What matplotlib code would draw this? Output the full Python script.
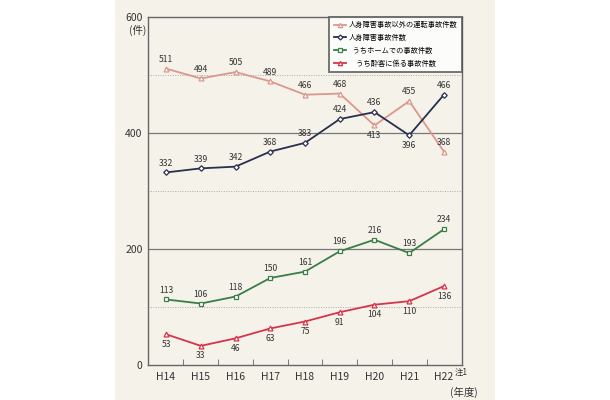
import matplotlib
matplotlib.use("Agg")
import matplotlib.pyplot as plt
from matplotlib.patches import Rectangle

plt.rcParams['font.family'] = ['Noto Sans CJK JP', 'DejaVu Sans']

years = ["H14", "H15", "H16", "H17", "H18", "H19", "H20", "H21", "H22"]
other_ops = [511, 494, 505, 489, 466, 468, 413, 455, 368]
injury = [332, 339, 342, 368, 383, 424, 436, 396, 466]
platform = [113, 106, 118, 150, 161, 196, 216, 193, 234]
drunk = [53, 33, 46, 63, 75, 91, 104, 110, 136]

names = ["人身障害事故以外の運転事故件数", "人身障害事故件数",
         "\u2002うちホームでの事故件数", "\u3000うち酔客に係る事故件数"]

fig = plt.figure(figsize=(6.1, 4.0), dpi=100)
fig.patch.set_facecolor("white")
bg = fig.add_axes([115/610, 0, 380/610, 1], zorder=-10)
bg.set_axis_off()
bg.add_patch(Rectangle((0, 0), 1, 1, transform=bg.transAxes,
                       facecolor="#f5f2ea", edgecolor="none"))

ax = fig.add_axes([148/610, 35/400, 314/610, 348/400], zorder=1)
ax.set_facecolor("none")
x = list(range(len(years)))

c_pink, c_navy, c_green, c_red = "#dc978d", "#28304e", "#3b7d47", "#d6344a"
series = [
    (other_ops, c_pink, "^", 3.5, ["a", "a", "a", "a", "a", "a", "b", "a", "a"]),
    (injury, c_navy, "D", 2.8, ["a", "a", "a", "a", "a", "a", "a", "b", "a"]),
    (platform, c_green, "s", 3.5, ["a"] * 9),
    (drunk, c_red, "^", 3.5, ["b"] * 9),
]
for (vals, col, mk, ms, pos), name in zip(series, names):
    ax.plot(x, vals, color=col, lw=1.3, marker=mk, ms=ms, mfc="white",
            mec=col, mew=0.9, label=name, zorder=3)
    for xi, v, p in zip(x, vals, pos):
        dy = 3.5 if p == "a" else -4
        ax.annotate(str(v), (xi, v), xytext=(0, dy), textcoords="offset points",
                    ha="center", va="bottom" if p == "a" else "top",
                    fontsize=6.2, color="#333333", zorder=4)

ax.set_xlim(-0.52, 8.52)
ax.set_ylim(0, 600)
for yv in (200, 400):
    ax.axhline(yv, color="#777777", lw=0.9, zorder=1)
for yv in (100, 300, 500):
    ax.axhline(yv, color="#aaaaaa", lw=0.7, ls=(0, (1, 1.5)), zorder=1)

ax.set_yticks([0, 200, 400, 600])
ax.set_yticklabels(["0", "200", "400", "600"], fontsize=7.5, color="#333333")
ax.tick_params(axis="y", length=0, pad=4)
ax.set_xticks(x)
ax.set_xticklabels(years, fontsize=7.5, color="#333333")
ax.tick_params(axis="x", length=0, pad=5)
ax.set_xticks([i + 0.5 for i in range(8)], minor=True)
ax.tick_params(axis="x", which="minor", direction="in", length=4, color="#666666")
for s in ax.spines.values():
    s.set_color("#666666")
    s.set_linewidth(1.0)

fig.text(129/610, 1 - 30/400, "(件)", fontsize=7.5, color="#333333", va="center", ha="left")
fig.text(455/610, 1 - 372/400, "注1", fontsize=6, color="#333333", va="center", ha="left")
fig.text(450/610, 1 - 392/400, "(年度)", fontsize=7.5, color="#333333", va="center", ha="left")

leg = ax.legend(loc="upper right", bbox_to_anchor=(1.0, 1.0), fontsize=5.2,
                frameon=True, fancybox=False, edgecolor="#555555",
                handlelength=1.7, borderpad=0.6, labelspacing=0.65,
                borderaxespad=0.0, handletextpad=0.4, markerscale=0.9)
leg.get_frame().set_facecolor("white")
leg.get_frame().set_linewidth(1.4)

fig.savefig("out.png", dpi=100)
